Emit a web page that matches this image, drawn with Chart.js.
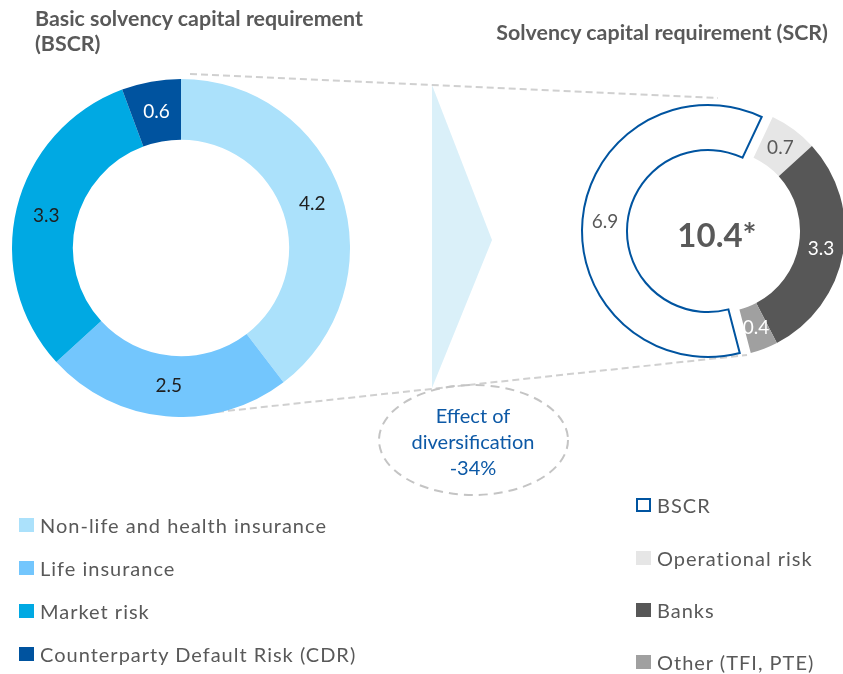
<!DOCTYPE html>
<html>
<head>
<meta charset="utf-8">
<script src="https://cdn.jsdelivr.net/npm/chart.js@4.4.1/dist/chart.umd.min.js"></script>
<style>
  html, body { margin: 0; padding: 0; background: #fff; }
  #stage {
    position: relative;
    width: 843px;
    height: 674px;
    overflow: hidden;
    font-family: Lato, "Noto Sans", sans-serif;
    color: #595959;
  }
  #stage canvas, #stage .abs { position: absolute; }
  .title { font-weight: 700; font-size: 21.4px; line-height: 25px; white-space: nowrap; }
  .note { color: #0d59a6; font-size: 20px; line-height: 26px; text-align: center; width: 200px; }
  .row { display: flex; align-items: center; height: 26px; font-size: 20px; letter-spacing: 1px; white-space: nowrap; }
  .sw { width: 15px; height: 14px; margin-right: 6px; box-sizing: border-box; flex: none; }
</style>
</head>
<body>
<div id="stage">
  <canvas id="deco" width="843" height="674" style="left:0;top:0"></canvas>
  <canvas id="chart-bscr" width="338" height="338" style="left:12px;top:79px"></canvas>
  <canvas id="chart-scr" width="290" height="272" style="left:560px;top:95px"></canvas>

  <div class="abs title" style="left:35px;top:6px">Basic solvency capital requirement<br>(BSCR)</div>
  <div class="abs title" style="right:15px;top:20px">Solvency capital requirement (SCR)</div>
  <div class="abs note" id="note" style="left:373px;top:402px"></div>
  <div id="legend-bscr"></div>
  <div id="legend-scr"></div>
</div>

<script>
// BSCR breakdown (left ring)
const bscrLabels = ["Non-life and health insurance", "Life insurance", "Market risk", "Counterparty Default Risk (CDR)"];
const bscrValues = [4.2, 2.5, 3.3, 0.6];
const bscrColors = ["#abe1fb", "#73c6fd", "#00a9e3", "#00539f"];
const bscrLabelColors = ["#1f1f1f", "#1f1f1f", "#1f1f1f", "#ffffff"];

// SCR composition (right ring)
const scrLabels = ["BSCR", "Operational risk", "Banks", "Other (TFI, PTE)"];
const scrValues = [6.9, 0.7, 3.3, 0.4];
const scrColors = ["#ffffff", "#e6e6e6", "#575757", "#a0a0a0"];
const scrLabelColors = ["#595959", "#595959", "#ffffff", "#ffffff"];
const scrTotalText = "10.4*";

const diversificationPct = -34;

const blue = "#0054a0";

// value labels in the middle of each ring segment
const arcLabels = {
  id: "arcLabels",
  afterDatasetsDraw(chart, args, opts) {
    const ctx = chart.ctx;
    const meta = chart.getDatasetMeta(0);
    const values = chart.data.datasets[0].data;
    ctx.save();
    ctx.font = "19px Lato, 'Noto Sans', sans-serif";
    ctx.textAlign = "center";
    ctx.textBaseline = "middle";
    meta.data.forEach((arc, i) => {
      const p = arc.tooltipPosition();
      ctx.fillStyle = opts.colors[i];
      ctx.fillText(values[i].toFixed(1), p.x, p.y);
    });
    if (opts.center) {
      const a = meta.data[1];
      ctx.font = "bold 33px Lato, 'Noto Sans', sans-serif";
      ctx.fillStyle = "#595959";
      ctx.fillText(opts.center, a.x - 2, a.y + 5);
    }
    ctx.restore();
  },
};

// pulls the BSCR slice out of the ring towards the left
const explodeFirst = {
  id: "explodeFirst",
  afterUpdate(chart, args, opts) {
    const arc = chart.getDatasetMeta(0).data[0];
    arc.x -= opts.shift;
  },
};

new Chart(document.getElementById("chart-bscr"), {
  type: "doughnut",
  data: {
    labels: bscrLabels,
    datasets: [{
      data: bscrValues,
      backgroundColor: bscrColors,
      borderWidth: 0,
    }],
  },
  options: {
    responsive: false,
    animation: false,
    cutout: "64%",
    events: [],
    plugins: {
      legend: { display: false },
      tooltip: { enabled: false },
      arcLabels: { colors: bscrLabelColors },
    },
  },
  plugins: [arcLabels],
});

new Chart(document.getElementById("chart-scr"), {
  type: "doughnut",
  data: {
    labels: scrLabels,
    datasets: [{
      data: scrValues,
      backgroundColor: scrColors,
      borderColor: [blue, "rgba(0,0,0,0)", "rgba(0,0,0,0)", "rgba(0,0,0,0)"],
      borderWidth: [2, 0, 0, 0],
      borderJoinStyle: "miter",
      clip: false,
    }],
  },
  options: {
    responsive: false,
    animation: false,
    rotation: 165.4,
    radius: 126,
    cutout: "64.3%",
    events: [],
    layout: { padding: { left: 33, top: 10, right: 5, bottom: 10 } },
    plugins: {
      legend: { display: false },
      tooltip: { enabled: false },
      arcLabels: { colors: scrLabelColors, center: scrTotalText },
      explodeFirst: { shift: 11 },
    },
  },
  plugins: [explodeFirst, arcLabels],
});

// connector between the two rings
const deco = document.getElementById("deco").getContext("2d");
deco.fillStyle = "#daf0f9";
deco.beginPath();
deco.moveTo(432, 85);
deco.lineTo(492, 240);
deco.lineTo(432, 388);
deco.closePath();
deco.fill();

deco.strokeStyle = "#d0d0d0";
deco.lineWidth = 2;
deco.setLineDash([7, 4]);
deco.beginPath();
deco.moveTo(190, 74);
deco.lineTo(718, 98);
deco.moveTo(217, 412);
deco.lineTo(747, 355);
deco.stroke();

deco.strokeStyle = "#c4c4c4";
deco.setLineDash([9, 6]);
deco.beginPath();
deco.ellipse(473.5, 440, 94.5, 55, 0, 0, Math.PI * 2);
deco.stroke();

document.getElementById("note").innerHTML =
  "Effect of<br>diversification<br>" + diversificationPct + "%";

function buildLegend(el, labels, colors, left, tops) {
  labels.forEach((label, i) => {
    const row = document.createElement("div");
    row.className = "abs row";
    row.style.left = left + "px";
    row.style.top = (tops[i] - 13) + "px";
    const sw = document.createElement("span");
    sw.className = "sw";
    if (colors[i] === "#ffffff") {
      sw.style.border = "2px solid " + blue;
    } else {
      sw.style.background = colors[i];
    }
    row.appendChild(sw);
    row.appendChild(document.createTextNode(label));
    el.appendChild(row);
  });
}

buildLegend(document.getElementById("legend-bscr"), bscrLabels, bscrColors, 19, [525, 568, 611, 654]);
buildLegend(document.getElementById("legend-scr"), scrLabels, scrColors, 636, [505, 558, 610, 662]);
</script>
</body>
</html>
